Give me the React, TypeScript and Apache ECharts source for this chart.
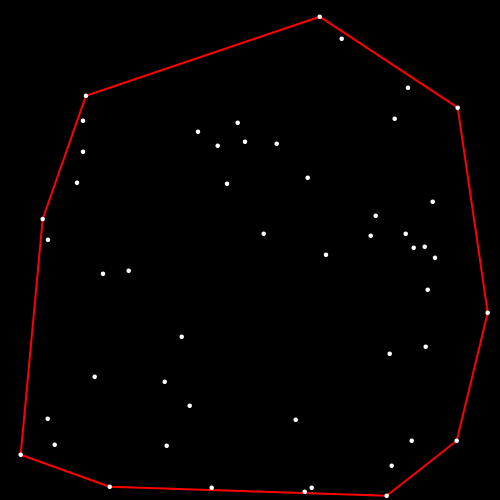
import { useEffect, useRef } from "react";
import * as echarts from "echarts";

// all points (x, y) in the chart's 0..500 units, y grows downward
const pointX = [
  319.7, 341.7, 408, 457.7, 394.7, 86, 83, 83, 77, 42.7, 48,
  198, 217.7, 237.7, 245, 227, 276.7, 307.7, 432.7, 375.7, 263.7, 370.7,
  405.7, 413.7, 424.7, 435, 326, 427.7, 487.7, 389.7, 425.7, 103, 128.7,
  181.7, 94.7, 164.7, 189.7, 47.7, 54.7, 166.7, 20.7, 109.7, 211.7,
  295.7, 411.7, 456.7, 391.7, 304.7, 311.7, 386.7,
];
const pointY = [
  16.7, 38.7, 87.7, 107.7, 118.7, 95.7, 120.7, 151.7, 182.7, 219, 239.7,
  131.7, 145.7, 122.7, 141.7, 183.7, 143.7, 177.7, 201.7, 215.7, 233.7, 235.7,
  233.7, 247.7, 246.7, 257.7, 254.7, 289.7, 312.7, 353.7, 346.7, 273.7, 270.7,
  336.7, 376.7, 381.7, 405.7, 418.7, 444.7, 445.7, 454.7, 486.7, 487.7,
  419.7, 440.7, 440.7, 465.7, 491.7, 487.7, 495.7,
];

// hull vertices, clockwise, as indexes into the point arrays
const hull = [0, 3, 28, 45, 49, 41, 40, 9, 5, 0];

export default function App() {
  const ref = useRef<HTMLDivElement>(null);

  useEffect(() => {
    document.body.style.margin = "0";
    document.body.style.background = "#000";
    if (!ref.current) return;
    const chart = echarts.init(ref.current, undefined, { renderer: "svg" });
    const pts = pointX.map((x, i) => [x, pointY[i]]);
    const ring = hull.map((i) => [pointX[i], pointY[i]]);
    chart.setOption({
      animation: false,
      backgroundColor: "#000",
      grid: { left: 0, right: 0, top: 0, bottom: 0 },
      xAxis: { type: "value", min: 0, max: 500, show: false },
      yAxis: { type: "value", min: 0, max: 500, inverse: true, show: false },
      series: [
        {
          type: "line",
          data: ring,
          showSymbol: false,
          lineStyle: { color: "#ff0000", width: 2 },
          z: 1,
        },
        {
          type: "scatter",
          data: pts,
          symbolSize: 4.5,
          itemStyle: { color: "#ffffff", opacity: 1 },
          z: 2,
        },
      ],
    });
    return () => chart.dispose();
  }, []);

  return <div ref={ref} style={{ width: 500, height: 500, background: "#000" }} />;
}
